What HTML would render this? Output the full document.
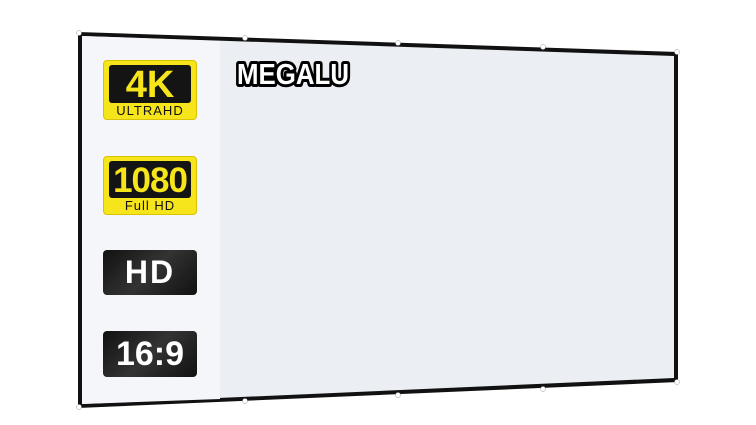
<!DOCTYPE html>
<html><head><style>
body{margin:0;width:756px;height:425px;background:#fff;overflow:hidden;position:relative;font-family:"Liberation Sans",sans-serif}
.b{position:absolute;left:103px;width:94px;border-radius:4px}
.y{background:#f6e51a;border:1px solid #d9c300;box-sizing:border-box}
.y .in{margin:4px 5px 0;background:#141414;border-radius:3px;color:#f6e51a;font-weight:bold;text-align:center}
.y .sub{text-align:center;color:#111;font-size:13px;letter-spacing:1px;line-height:16px}
.k{background:linear-gradient(135deg,#111,#333 50%,#111);color:#fff;font-weight:bold;text-align:center}
</style></head><body>
<svg width="756" height="425" style="position:absolute;left:0;top:0">
<polygon points="78,32 678,52 678,382 78,408" fill="#111"/>
<polygon points="82,36 674,56 674,378 82,404" fill="#ebeef3"/>
<polygon points="82,36 220,41 220,399 82,404" fill="#f4f6f9"/>
<g fill="#fff" stroke="#999" stroke-width="0.5">
<circle cx="79" cy="33" r="2.5"/><circle cx="245" cy="38" r="2.5"/><circle cx="398" cy="43" r="2.5"/><circle cx="543" cy="47" r="2.5"/><circle cx="677" cy="52" r="2.5"/>
<circle cx="79" cy="407" r="2.5"/><circle cx="245" cy="401" r="2.5"/><circle cx="398" cy="395" r="2.5"/><circle cx="543" cy="389" r="2.5"/><circle cx="677" cy="382" r="2.5"/>
</g>
<text x="237" y="84" font-family="Liberation Sans" font-weight="bold" font-size="29" fill="#fff" stroke="#000" stroke-width="6" stroke-linejoin="round" paint-order="stroke" textLength="112" lengthAdjust="spacingAndGlyphs">MEGALU</text>
</svg>
<div class="b y" style="top:60px;height:60px"><div class="in" style="height:38px;line-height:40px;font-size:38px">4K</div><div class="sub">ULTRAHD</div></div>
<div class="b y" style="top:156px;height:59px"><div class="in" style="height:37px;line-height:39px;font-size:35px;letter-spacing:-1px">1080</div><div class="sub">Full HD</div></div>
<div class="b k" style="top:250px;height:45px;line-height:45px;font-size:32px;letter-spacing:2px">HD</div>
<div class="b k" style="top:331px;height:46px;line-height:46px;font-size:34px">16:9</div>
</body></html>
